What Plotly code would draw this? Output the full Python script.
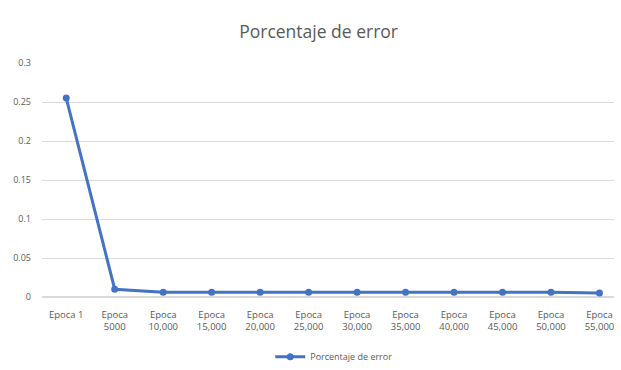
import plotly.graph_objects as go

categories = ["Epoca 1", "Epoca<br>5000", "Epoca<br>10,000", "Epoca<br>15,000", "Epoca<br>20,000",
              "Epoca<br>25,000", "Epoca<br>30,000", "Epoca<br>35,000", "Epoca<br>40,000",
              "Epoca<br>45,000", "Epoca<br>50,000", "Epoca<br>55,000"]
error_pct = [0.255, 0.010, 0.006, 0.006, 0.006, 0.006, 0.006, 0.006, 0.006, 0.006, 0.006, 0.005]
y_ticks = [0, 0.05, 0.1, 0.15, 0.2, 0.25, 0.3]
y_tick_labels = ["0", "0.05", "0.1", "0.15", "0.2", "0.25", "0.3"]
series_name = "Porcentaje de error"

fig = go.Figure()
fig.add_trace(go.Scatter(
    x=list(range(len(categories))), y=error_pct, mode="lines+markers", name=series_name,
    line=dict(color="#4472C4", width=3),
    marker=dict(color="#4472C4", size=7, symbol="circle"),
))

fig.update_layout(
    width=621, height=370,
    paper_bgcolor="white", plot_bgcolor="white",
    margin=dict(l=42, r=7, t=63, b=73, autoexpand=False),
    font=dict(family="Open Sans, sans-serif", color="#595959", size=10),
    title=dict(text="Porcentaje de error", x=0.513, xanchor="center", y=0.913, yanchor="middle",
               font=dict(size=17.5, color="#595959", family="Open Sans, sans-serif")),
    showlegend=True,
    legend=dict(orientation="h", x=0.51, xanchor="center", y=-0.255, yanchor="middle",
                font=dict(size=9, color="#595959"), itemwidth=30),
)
fig.update_xaxes(
    tickmode="array", tickvals=list(range(len(categories))), ticktext=categories,
    range=[-0.5, 11.3], showgrid=False, zeroline=False, showline=False, automargin=False,
    tickfont=dict(size=9.5, color="#595959"), ticks="", ticklabelstandoff=10,
)
fig.update_yaxes(
    range=[0, 0.3], tickmode="array", tickvals=y_ticks, ticktext=y_tick_labels, automargin=False,
    showgrid=True, gridcolor="#D9D9D9", gridwidth=1, zeroline=True, zerolinecolor="#D9D9D9",
    showline=False, tickfont=dict(size=9, color="#595959"), ticks="", ticklabelstandoff=10,
)

fig.write_html("out.html")
